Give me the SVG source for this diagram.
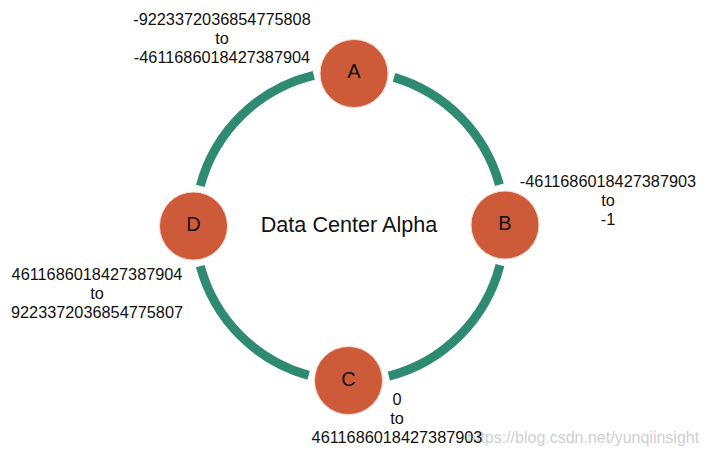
<svg xmlns="http://www.w3.org/2000/svg" width="708" height="452" viewBox="0 0 708 452">
<style>
.ring{fill:none;stroke:#2f8a72;stroke-width:9}
.node{fill:#cd5b3a;stroke:#f3d6cc;stroke-width:1}
.nl{font-family:"Liberation Sans",Arial,sans-serif;font-size:20px;fill:#111;text-anchor:middle}
.lb{font-family:"Liberation Sans",Arial,sans-serif;font-size:16.3px;fill:#111;text-anchor:middle}
.title{font-family:"Liberation Sans",Arial,sans-serif;font-size:21.6px;fill:#111;text-anchor:middle}
.wm{font-family:"Liberation Sans",Arial,sans-serif;font-size:16px;fill:#cfcfcf}
</style>
<rect width="708" height="452" fill="#fff"/>
<g id="connectors">
<path class="ring" d="M394.0,77.4 A155,155 0 0 1 499.4,184.8"/>
<path class="ring" d="M500.0,265.1 A155,155 0 0 1 388.8,376.1"/>
<path class="ring" d="M308.6,375.4 A155,155 0 0 1 200.3,266.1"/>
<path class="ring" d="M200.3,185.9 A155,155 0 0 1 313.8,75.3"/>
</g>
<text class="wm" x="467" y="443">https://blog.csdn.net/yunqiinsight</text>
<g id="title"><text class="title" x="349" y="232">Data Center Alpha</text></g>
<g id="A">
<circle class="node" cx="354" cy="73.5" r="34"/>
<text class="nl" x="354" y="78">A</text>
<text class="lb" x="222" y="25"><tspan x="222">-9223372036854775808</tspan><tspan x="222" dy="19">to</tspan><tspan x="222" dy="19">-4611686018427387904</tspan></text>
</g>
<g id="B">
<circle class="node" cx="505" cy="225" r="34"/>
<text class="nl" x="505" y="230">B</text>
<text class="lb" x="608" y="187"><tspan x="608">-4611686018427387903</tspan><tspan x="608" dy="19">to</tspan><tspan x="608" dy="19">-1</tspan></text>
</g>
<g id="C">
<circle class="node" cx="348.5" cy="380.5" r="34"/>
<text class="nl" x="348.5" y="385.5">C</text>
<text class="lb" x="397" y="405"><tspan x="397">0</tspan><tspan x="397" dy="19">to</tspan><tspan x="397" dy="19">4611686018427387903</tspan></text>
</g>
<g id="D">
<circle class="node" cx="193.5" cy="226" r="34"/>
<text class="nl" x="193.5" y="231">D</text>
<text class="lb" x="97" y="280"><tspan x="97">4611686018427387904</tspan><tspan x="97" dy="19">to</tspan><tspan x="97" dy="19">9223372036854775807</tspan></text>
</g>
</svg>
